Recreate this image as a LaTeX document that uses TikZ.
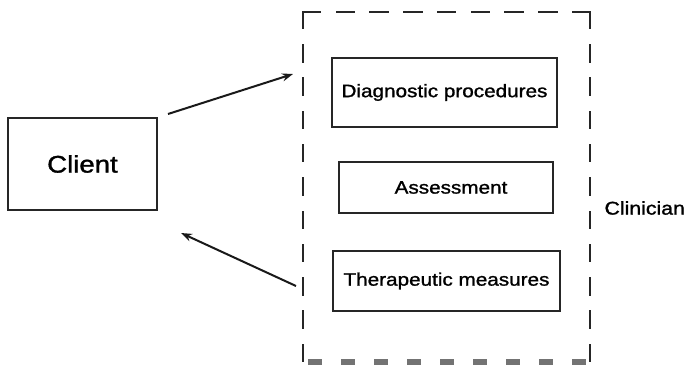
\documentclass[tikz,border=0pt]{standalone}
\usepackage{fontspec}
\setmainfont[FakeStretch=1.15,FakeBold=1.3]{Liberation Sans}
\usetikzlibrary{arrows.meta,calc}
\begin{document}
\begin{tikzpicture}[x=1pt,y=-1pt,
  box/.style={draw=black!85,line width=2pt,inner sep=0pt,
    font=\fontsize{18}{20}\selectfont},
  link/.style={line width=2pt,draw=black!90,
    -{Stealth[length=11pt,width=8pt]}},
  vframe/.style={line width=2.5pt,draw=black!85,line cap=rect,
    dash pattern=on 16pt off 17.3pt},
  hframe/.style={line width=2.5pt,draw=black!85,line cap=rect,
    dash pattern=on 17pt off 16.75pt},
  framebase/.style={line width=6pt,draw=black!55,dash pattern=on 14pt off 19pt}]
\useasboundingbox (0,0) rectangle (685,364);

% client on the left
\node[box,minimum width=149pt,minimum height=92pt,
  font=\fontsize{24}{26}\selectfont] (client) at (82.5,164) {Client};

% clinician activities
\node[box,minimum width=225pt,minimum height=69pt] (diag) at (444.5,92.5) {Diagnostic procedures};
\node[box,minimum width=214pt,minimum height=51pt] (assess) at (446,187.5) {\hspace*{10pt}Assessment};
\node[box,minimum width=227pt,minimum height=60pt] (thera) at (446.5,281) {Therapeutic measures};

% dashed clinician frame, one side at a time so each corner is closed
\draw[vframe] (303,12) -- (303,361);
\draw[vframe] (590,12) -- (590,361);
\draw[hframe] (303,12) -- (590,12);
\draw[framebase] (308,362) -- (592,362);
\node[anchor=west,font=\fontsize{18.5}{20}\selectfont] (clinician) at (601,208) {Clinician};

% exchanges between client and clinician
\coordinate (intoframe) at (293,74);
\coordinate (outofframe) at (296,286);
\draw[link] ($(client.north east)+(10,-3)$) -- (intoframe);
\draw[link] (outofframe) -- ($(client.south east)+(23,22)$);
\end{tikzpicture}
\end{document}
